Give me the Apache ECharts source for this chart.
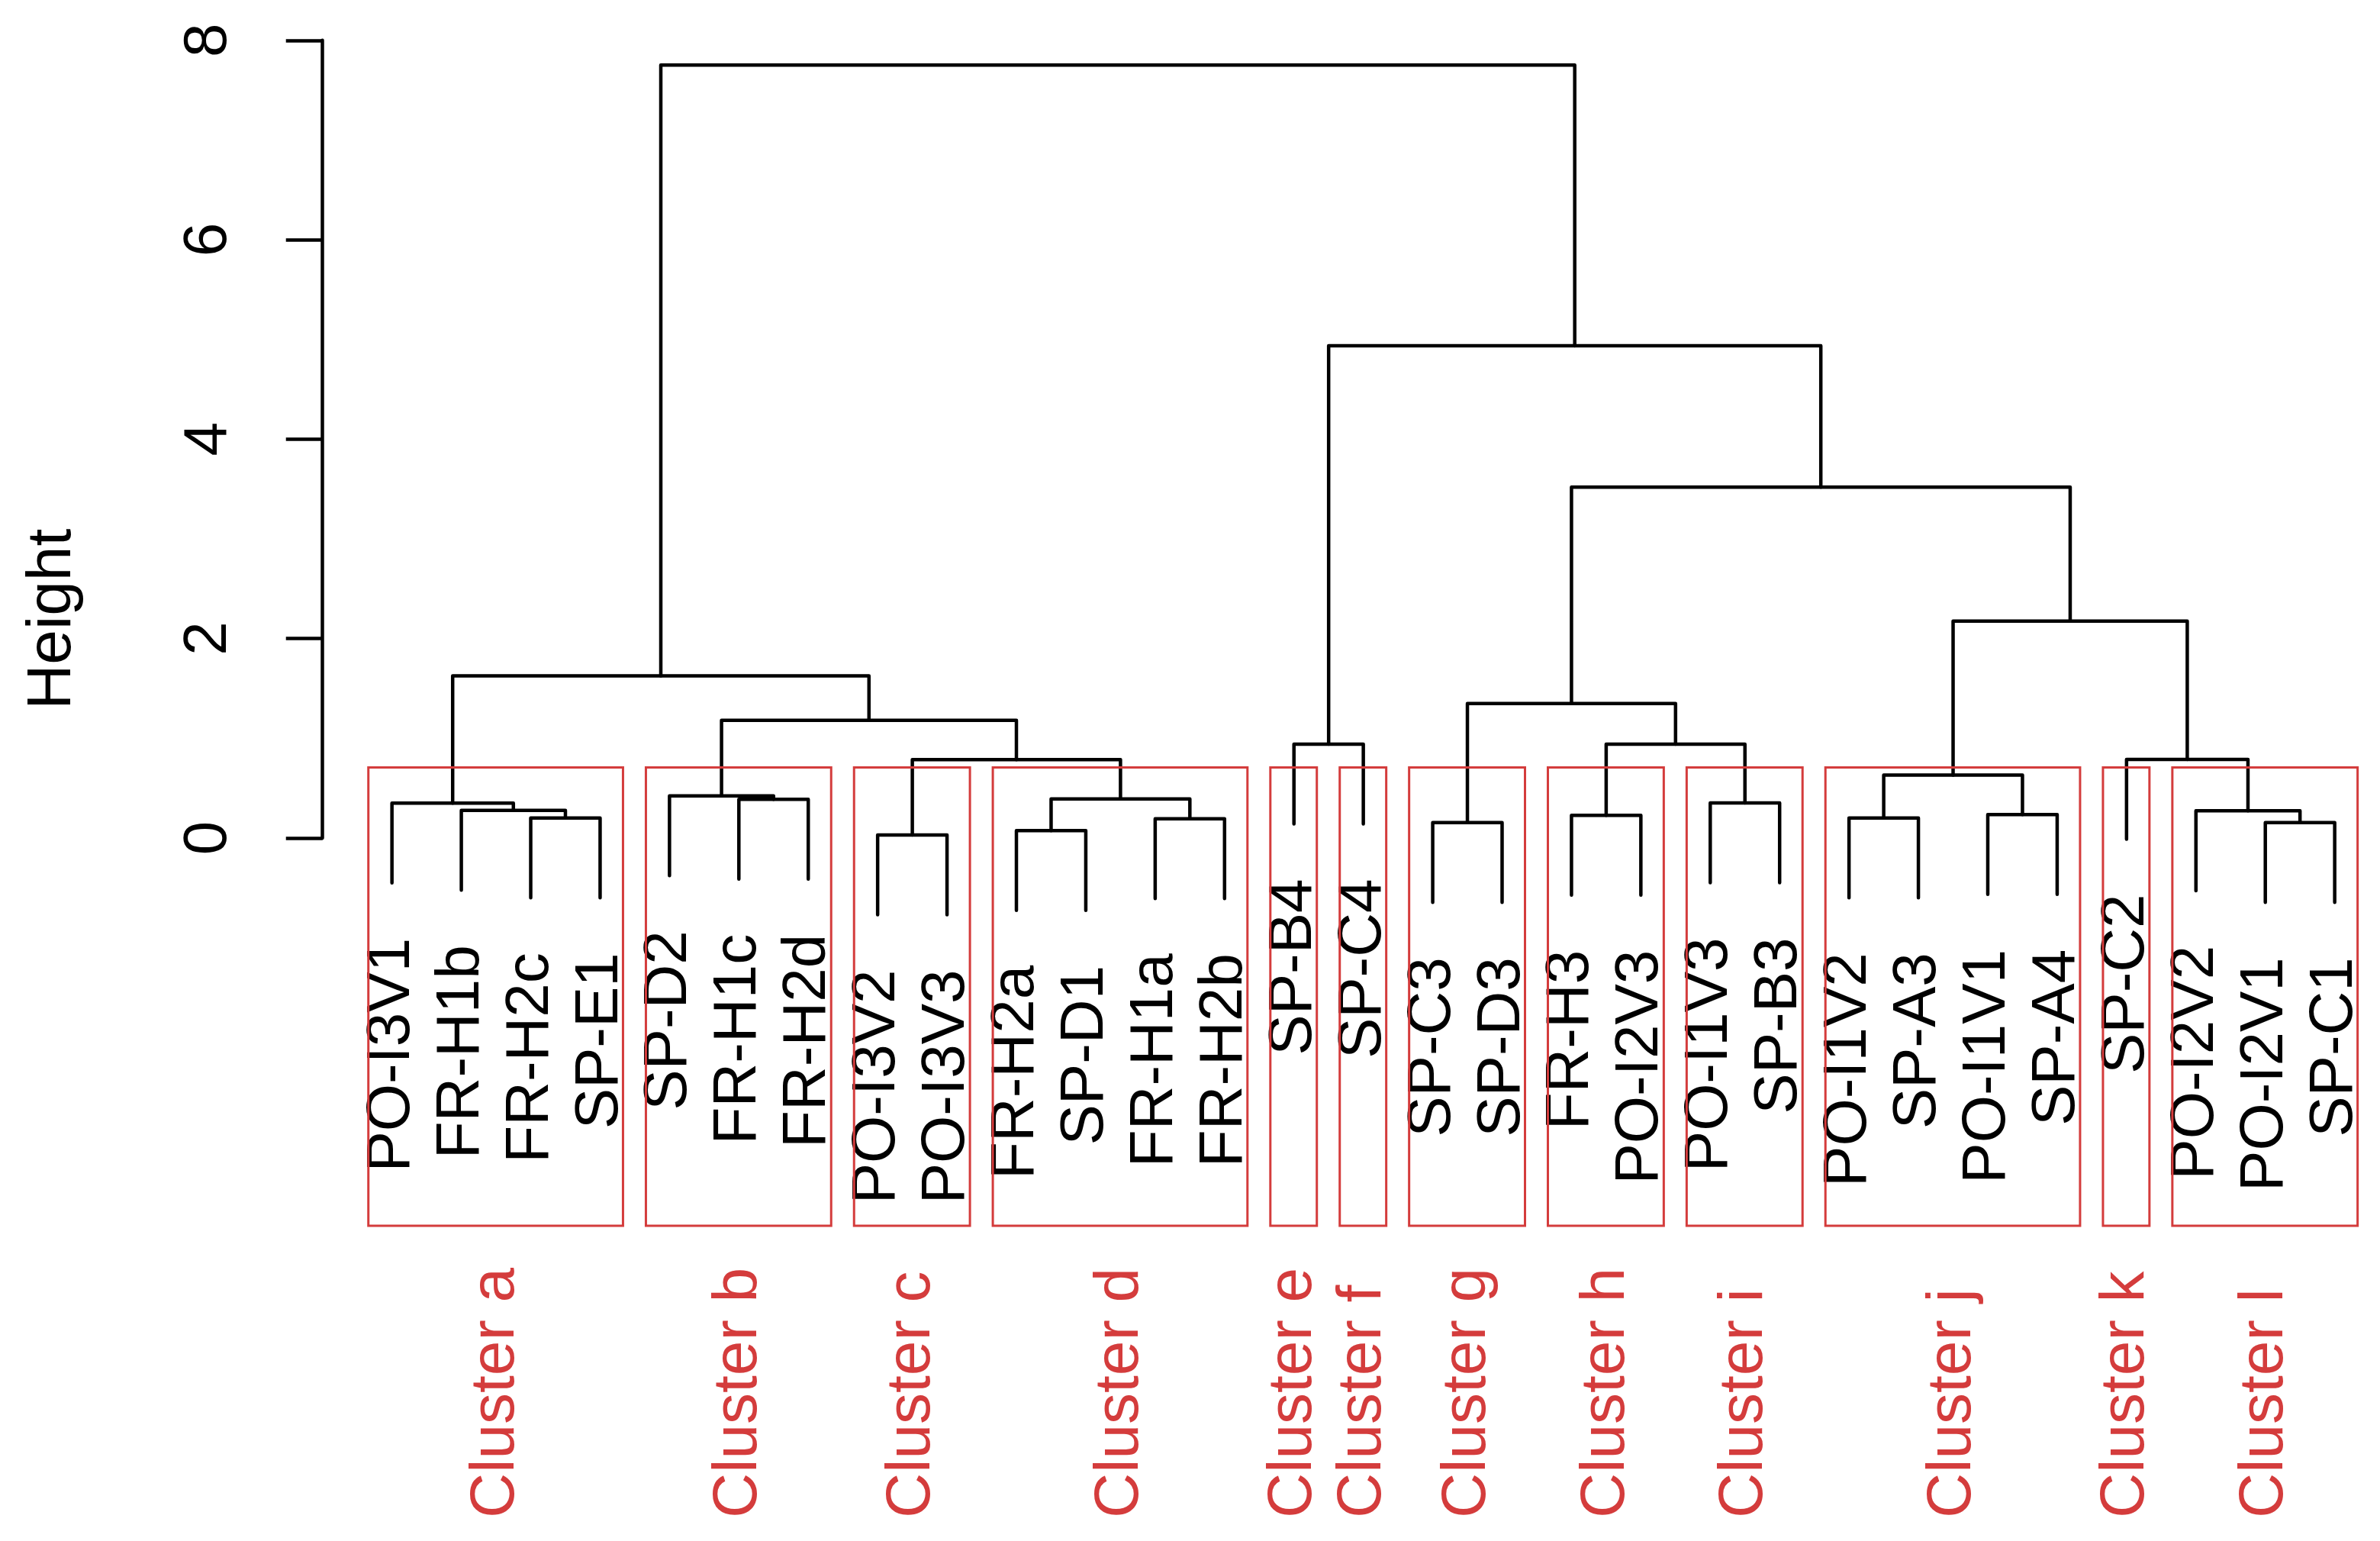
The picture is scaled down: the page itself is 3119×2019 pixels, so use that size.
<!DOCTYPE html>
<html>
<head>
<meta charset="utf-8">
<script src="https://cdn.jsdelivr.net/npm/echarts@6/dist/echarts.min.js"></script>
<style>
html,body{margin:0;padding:0;background:#ffffff;}
#chart{width:3119px;height:2019px;}
</style>
</head>
<body>
<div id="chart"></div>
<script>
// ---------- DATA ----------
const leafLabels = ['PO-I3V1','FR-H1b','FR-H2c','SP-E1','SP-D2','FR-H1c','FR-H2d','PO-I3V2','PO-I3V3',
  'FR-H2a','SP-D1','FR-H1a','FR-H2b','SP-B4','SP-C4','SP-C3','SP-D3','FR-H3','PO-I2V3','PO-I1V3','SP-B3',
  'PO-I1V2','SP-A3','PO-I1V1','SP-A4','SP-C2','PO-I2V2','PO-I2V1','SP-C1'];
// hclust-style merges: negative = leaf (1-based position), positive = earlier merge row (1-based)
const mergeLeft   = [-8, -10, -16, -28, -12, -3, -22, -18, -24, -27, -2, -1, -20, -6, 2, -5, 7, 1, -26, -14, 8, 16, 3, 12, 17, 23, 20, 24];
const mergeRight  = [-9, -11, -17, -29, -13, -4, -23, -19, -25, 4, 6, 11, -21, -7, 5, 14, 9, 15, 10, -15, 13, 18, 21, 22, 19, 25, 26, 27];
const mergeHeight = [0.03, 0.073, 0.155, 0.155, 0.193, 0.201, 0.201, 0.227, 0.234, 0.272, 0.277, 0.349, 0.352, 0.387,
  0.392, 0.423, 0.63, 0.785, 0.788, 0.941, 0.941, 1.18, 1.349, 1.625, 2.176, 3.518, 4.937, 7.751];
const clusterNames = ['Cluster a','Cluster b','Cluster c','Cluster d','Cluster e','Cluster f',
  'Cluster g','Cluster h','Cluster i','Cluster j','Cluster k','Cluster l'];
const clusterFirst = [1, 5, 8, 10, 14, 15, 16, 18, 20, 22, 26, 27];
const clusterLast  = [4, 7, 9, 13, 14, 15, 17, 19, 21, 25, 26, 29];
const yTickValues = [0, 2, 4, 6, 8];

// ---------- STYLE CONSTANTS ----------
const HANG = 0.8;            // leaves hang below their merge (height units)
const BOX_BOTTOM = -3.89;    // lower edge of cluster rectangles (height units)
const FONT = "'Liberation Sans', Arial, Helvetica, sans-serif";
const RED = '#d43c3c';

// ---------- DERIVED TREE GEOMETRY ----------
const mergeX = [];
const leafBottom = [];
const segData = [];
function nodeX(id) { return id < 0 ? -id : mergeX[id - 1]; }
for (let i = 0; i < mergeHeight.length; i++) {
  const h = mergeHeight[i];
  const l = mergeLeft[i], r = mergeRight[i];
  const xl = nodeX(l), xr = nodeX(r);
  mergeX[i] = (xl + xr) / 2;
  const yl = l < 0 ? h - HANG : mergeHeight[l - 1];
  const yr = r < 0 ? h - HANG : mergeHeight[r - 1];
  if (l < 0) leafBottom[-l] = h - HANG;
  if (r < 0) leafBottom[-r] = h - HANG;
  segData.push([xl, yl, xr, yr, h]);
}
const k = clusterNames.length;
const sortedH = mergeHeight.slice().sort((a, b) => b - a);
const boxTop = (sortedH[k - 2] + sortedH[k - 1]) / 2;
const boxData = clusterFirst.map((f, i) => [f - 0.34, boxTop, clusterLast[i] + 0.33, BOX_BOTTOM]);
const leafData = leafLabels.map((n, i) => [i + 1, leafBottom[i + 1]]);
const clusterData = clusterFirst.map((f, i) => [(f + clusterLast[i]) / 2, 0]);

// ---------- CHART ----------
const chart = echarts.init(document.getElementById('chart'), null, {renderer: 'canvas'});
const option = {
  animation: false,
  backgroundColor: '#ffffff',
  grid: {left: 410, right: 13.9, top: 52.8, bottom: 921.1, containLabel: false, outerBoundsMode: 'none'},
  xAxis: {type: 'value', min: -0.14, max: 29.5, show: false},
  yAxis: {
    type: 'value', position: 'left',
    min: yTickValues[0], max: yTickValues[yTickValues.length - 1], interval: yTickValues[1] - yTickValues[0],
    axisLine: {show: true, lineStyle: {color: '#000', width: 4.5}},
    axisTick: {show: true, length: 48, lineStyle: {color: '#000', width: 4.5}},
    axisLabel: {rotate: 90, margin: 96, fontSize: 80, color: '#000', fontFamily: FONT},
    splitLine: {show: false},
    name: 'Height', nameLocation: 'middle', nameRotate: 90, nameGap: 300,
    nameTextStyle: {fontSize: 82, color: '#000', fontFamily: FONT, padding: [0, 472, 0, 0]}
  },
  series: [
    {
      type: 'custom', name: 'tree', coordinateSystem: 'cartesian2d', clip: false, silent: true,
      encode: {x: [0, 2], y: [1, 3, 4]},
      data: segData,
      renderItem: function (params, api) {
        const p1 = api.coord([api.value(0), api.value(1)]);
        const p2 = api.coord([api.value(0), api.value(4)]);
        const p3 = api.coord([api.value(2), api.value(4)]);
        const p4 = api.coord([api.value(2), api.value(3)]);
        return {type: 'polyline', shape: {points: [p1, p2, p3, p4]},
          style: {stroke: '#000', lineWidth: 4.5, fill: null, lineJoin: 'round', lineCap: 'round'}};
      }
    },
    {
      type: 'custom', name: 'leaves', coordinateSystem: 'cartesian2d', clip: false, silent: true,
      encode: {x: 0, y: 1},
      data: leafData,
      renderItem: function (params, api) {
        const p = api.coord([api.value(0), api.value(1)]);
        return {type: 'text', x: p[0], y: p[1] + 72, rotation: Math.PI / 2,
          style: {text: leafLabels[params.dataIndex], fontSize: 80, fontFamily: FONT, fill: '#000',
            align: 'right', verticalAlign: 'middle'}};
      }
    },
    {
      type: 'custom', name: 'boxes', coordinateSystem: 'cartesian2d', clip: false, silent: true,
      encode: {x: [0, 2], y: [1, 3]},
      data: boxData,
      renderItem: function (params, api) {
        const a = api.coord([api.value(0), api.value(1)]);
        const b = api.coord([api.value(2), api.value(3)]);
        return {type: 'rect', shape: {x: a[0], y: a[1], width: b[0] - a[0], height: b[1] - a[1]},
          style: {stroke: RED, lineWidth: 3, fill: null}};
      }
    },
    {
      type: 'custom', name: 'clusters', coordinateSystem: 'cartesian2d', clip: false, silent: true,
      encode: {x: 0, y: 1},
      data: clusterData,
      renderItem: function (params, api) {
        const p = api.coord([api.value(0), api.value(1)]);
        return {type: 'text', x: p[0], y: api.getHeight() - 30, rotation: Math.PI / 2,
          style: {text: clusterNames[params.dataIndex], fontSize: 82, fontFamily: FONT, fill: RED,
            align: 'left', verticalAlign: 'middle'}};
      }
    }
  ]
};
chart.setOption(option);
</script>
</body>
</html>
